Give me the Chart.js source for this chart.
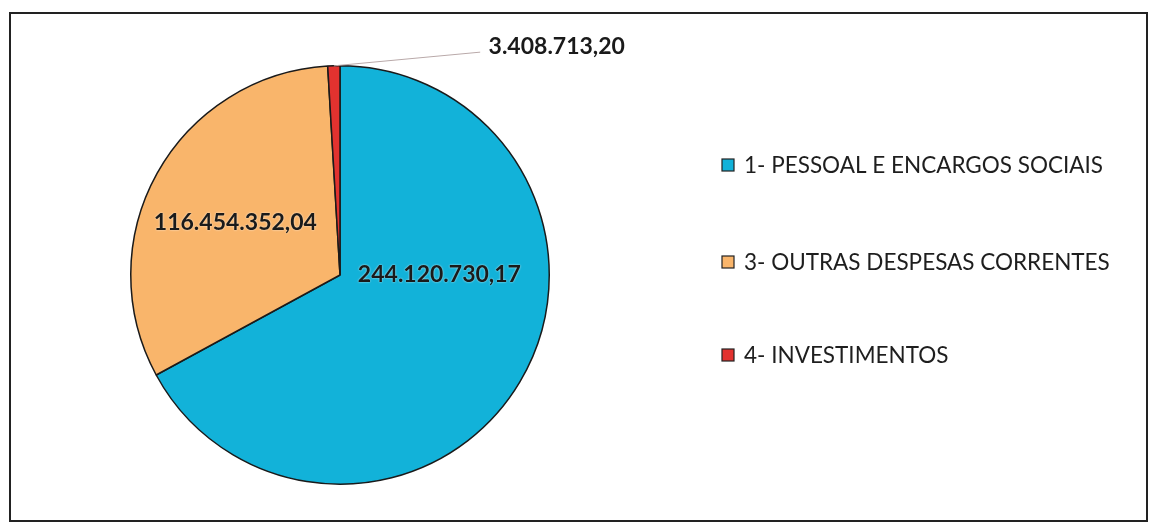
<!DOCTYPE html>
<html>
<head>
<meta charset="utf-8">
<script src="https://cdn.jsdelivr.net/npm/chart.js@4/dist/chart.umd.min.js"></script>
<style>
  html, body { margin: 0; padding: 0; background: #fff; }
  #wrap { width: 1149px; height: 524px; position: relative; }
</style>
</head>
<body>
<div id="wrap"><canvas id="pie"></canvas></div>
<script>
// Chart data
const categories = [
  "1- PESSOAL E ENCARGOS SOCIAIS",
  "3- OUTRAS DESPESAS CORRENTES",
  "4- INVESTIMENTOS",
];
const values = [244120730.17, 116454352.04, 3408713.2];
const valueLabels = ["244.120.730,17", "116.454.352,04", "3.408.713,20"];

const blue = "#12b2d9";
const orange = "#f9b56b";
const red = "#e2322f";
const colors = [blue, orange, red];

// label / legend drawing
const labelsPlugin = {
  id: "labels",
  afterDraw: (chart) => {
    const ctx = chart.ctx;
    const arc0 = chart.getDatasetMeta(0).data[0];
    const cx = arc0.x;
    const cy = arc0.y;
    const r = arc0.outerRadius;

    ctx.save();

    // outer frame
    ctx.strokeStyle = "#222";
    ctx.lineWidth = 2;
    ctx.strokeRect(10, 13, 1137, 508);

    // leader line for the small slice
    const redArc = chart.getDatasetMeta(0).data[2];
    const mid = (redArc.startAngle + redArc.endAngle) / 2;
    ctx.strokeStyle = "#b9a9a9";
    ctx.lineWidth = 1;
    ctx.beginPath();
    ctx.moveTo(cx + Math.cos(mid) * r, cy + Math.sin(mid) * r);
    ctx.lineTo(cx + 0.67 * r, cy - 1.065 * r);
    ctx.stroke();

    // value labels
    ctx.font = "bold 23px Lato";
    ctx.fillStyle = "#1a1a1a";
    ctx.textBaseline = "middle";
    ctx.shadowColor = "rgba(255,255,255,0.8)";
    ctx.shadowBlur = 2;
    ctx.textAlign = "center";
    ctx.fillText(valueLabels[0], cx + 0.475 * r, cy + 0.0 * r);
    ctx.fillText(valueLabels[1], cx - 0.5 * r, cy - 0.25 * r);
    ctx.textAlign = "left";
    ctx.fillText(valueLabels[2], cx + 0.71 * r, cy - 1.09 * r);
    ctx.shadowBlur = 0;

    // legend
    const legendX = 722;
    const legendY = [165, 262, 355];
    ctx.font = "22.5px Lato";
    categories.forEach((name, i) => {
      const y = legendY[i];
      ctx.fillStyle = colors[i];
      ctx.fillRect(legendX, y - 6, 12, 12);
      ctx.strokeStyle = "#222";
      ctx.lineWidth = 1.2;
      ctx.strokeRect(legendX, y - 6, 12, 12);
      ctx.fillStyle = "#1e1e1e";
      ctx.fillText(name, legendX + 22, y + 1);
    });

    ctx.restore();
  },
};

new Chart(document.getElementById("pie"), {
  type: "pie",
  data: {
    labels: categories,
    datasets: [
      {
        data: values,
        backgroundColor: colors,
        borderColor: "#1a1a1a",
        borderWidth: 1.5,
      },
    ],
  },
  options: {
    responsive: true,
    maintainAspectRatio: false,
    animation: false,
    layout: {
      padding: { left: 130, right: 599, top: 65, bottom: 39 },
    },
    plugins: {
      legend: { display: false },
      tooltip: { enabled: false },
    },
  },
  plugins: [labelsPlugin],
});
</script>
</body>
</html>
